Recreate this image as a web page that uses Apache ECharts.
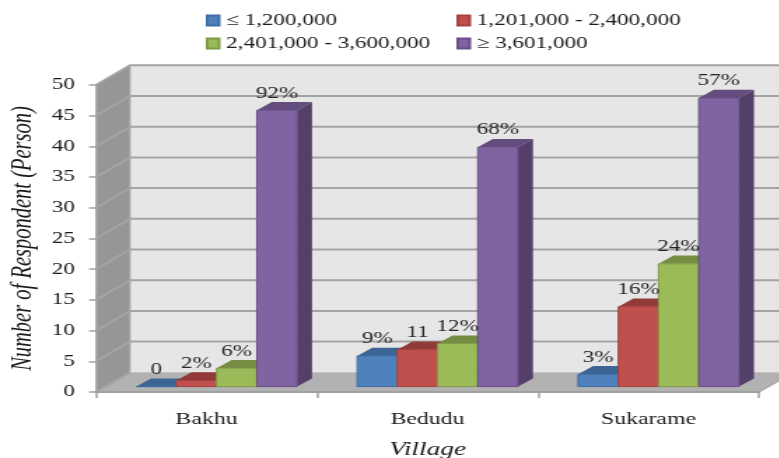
<!DOCTYPE html>
<html lang="en" style="height: 100%">
<head>
    <meta charset="utf-8">
    <style type="text/css">
        html, body { margin: 0; overflow: hidden; background: #fff; }
        /* the original picture is stretched sideways, text included */
        #container {
            width: 557px;
            height: 458px;
            transform: scaleX(1.4);
            transform-origin: 0 0;
        }
    </style>
</head>

<body>
    <div id="container"></div>

    <script type="text/javascript" src="https://cdn.jsdelivr.net/npm/echarts@6/dist/echarts.min.js"></script>
    <script type="text/javascript">

        const villages = ["Bakhu", "Bedudu", "Sukarame"];
        const yTicks = [0, 5, 10, 15, 20, 25, 30, 35, 40, 45, 50];

        const groupNames = ["≤ 1,200,000", "1,201,000 - 2,400,000", "2,401,000 - 3,600,000", "≥ 3,601,000"];

        const lowValues = [0, 5, 2];
        const lowLabels = ["0", "9%", "3%"];
        const midLowValues = [1, 6, 13];
        const midLowLabels = ["2%", "11", "16%"];
        const midHighValues = [3, 7, 20];
        const midHighLabels = ["6%", "12%", "24%"];
        const highValues = [45, 39, 47];
        const highLabels = ["92%", "68%", "57%"];

        // front, top, side, border
        const lowColors = ["#4f81bd", "#3c6595", "#325580", "#3f6da6"];
        const midLowColors = ["#c0504d", "#923a38", "#7d3230", "#a8403d"];
        const midHighColors = ["#9bbb59", "#758d43", "#647a39", "#7f9c45"];
        const highColors = ["#8064a2", "#634c7e", "#543f69", "#684f88"];

        const serif = "'Liberation Serif', 'Times New Roman', serif";

        const wallDepth = [24.3, -19.7];
        const barDepth = [10.7, -8.2];
        const barShift = [7.2, -5.4];
        const barBand = 0.182;

        let dom = document.getElementById('container');
        let myChart = echarts.init(dom, null, {
            renderer: 'canvas',
            useDirtyRect: false
        });

        const poly = (points, fill, stroke, width) => ({
            type: 'polygon',
            shape: { points: points },
            style: { fill: fill, stroke: stroke || null, lineWidth: width || 0 }
        });

        const renderWall = (params, api) => {
            let grid = params.coordSys;
            let x0 = grid.x;
            let x1 = grid.x + grid.width;
            let [dx, dy] = wallDepth;
            let y = api.coord([0, api.value(1)])[1];
            let children = [];

            if (api.value(1) === 0) {
                let top = grid.y;
                children.push(poly([[x0 + dx, top + dy], [x1 + dx, top + dy], [x1 + dx, y + dy], [x0 + dx, y + dy]], "#e6e6e6"));
                children.push(poly([[x0, top], [x0 + dx, top + dy], [x0 + dx, y + dy], [x0, y]], "#969696"));
                children.push(poly([[x0, y], [x0 + dx, y + dy], [x1 + dx, y + dy], [x1, y]], "#b2b2b2"));
                children.push({
                    type: 'polyline',
                    shape: { points: [[x0 + dx, top + dy], [x0 + dx, y + dy]] },
                    style: { stroke: "#a8a8a8", lineWidth: 1, fill: null }
                });
                children.push({
                    type: 'polyline',
                    shape: { points: [[x1, y], [x1 + dx, y + dy]] },
                    style: { stroke: "#a8a8a8", lineWidth: 1.5, fill: null }
                });
            }
            children.push({
                type: 'polyline',
                shape: api.value(1) === 0
                    ? { points: [[x0, y], [x0 + dx, y + dy]] }
                    : { points: [[x0, y], [x0 + dx, y + dy], [x1 + dx, y + dy]] },
                style: { stroke: "#a4a4a4", lineWidth: 2, fill: null }
            });
            return { type: 'group', children: children };
        };

        const makeBars = (name, order, values, labels, colors) => ({
            name: name,
            type: 'custom',
            z: 3,
            itemStyle: { color: colors[0], borderColor: colors[3], borderWidth: 1 },
            encode: { x: 0, y: 1 },
            data: values.map((v, i) => [i, v]),
            renderItem: (params, api) => {
                let band = api.size([1, 0])[0];
                let w = band * barBand;
                let top = api.coord([api.value(0), api.value(1)]);
                let base = api.coord([api.value(0), 0]);
                let x = top[0] + barShift[0] + (order - 2) * w;
                let yTop = top[1] + barShift[1];
                let yBase = base[1] + barShift[1];
                let [dx, dy] = barDepth;
                let label = labels[params.dataIndex];
                return {
                    type: 'group',
                    children: [
                        poly([[x + w, yTop], [x + w + dx, yTop + dy], [x + w + dx, yBase + dy], [x + w, yBase]], colors[2]),
                        poly([[x, yTop], [x + dx, yTop + dy], [x + w + dx, yTop + dy], [x + w, yTop]], colors[1]),
                        {
                            type: 'rect',
                            shape: { x: x, y: yTop, width: w, height: yBase - yTop },
                            style: { fill: colors[0], stroke: colors[3], lineWidth: 1 }
                        },
                        {
                            type: 'text',
                            z2: 20,
                            style: {
                                x: x + w / 2,
                                y: yTop - 17,
                                text: label,
                                fill: "#262626",
                                font: "16.5px " + serif,
                                align: 'center',
                                verticalAlign: 'middle'
                            }
                        }
                    ]
                };
            }
        });

        let option = {
            animation: false,
            grid: { left: 68.6, right: 14.9, top: 85, bottom: 66, outerBoundsMode: 'none' },
            legend: [
                {
                    orient: 'vertical',
                    left: 147,
                    top: 12,
                    itemWidth: 8.5,
                    itemHeight: 10,
                    itemGap: 6,
                    padding: 0,
                    icon: 'rect',
                    data: [groupNames[0], groupNames[2]],
                    textStyle: { fontFamily: serif, fontSize: 16.5, color: "#1a1a1a" }
                },
                {
                    orient: 'vertical',
                    left: 326,
                    top: 12,
                    itemWidth: 8.5,
                    itemHeight: 10,
                    itemGap: 6,
                    padding: 0,
                    icon: 'rect',
                    data: [groupNames[1], groupNames[3]],
                    textStyle: { fontFamily: serif, fontSize: 16.5, color: "#1a1a1a" }
                }
            ],
            xAxis: {
                type: 'category',
                z: 5,
                data: villages,
                name: "Village",
                nameLocation: 'middle',
                nameGap: 48,
                nameTextStyle: { fontFamily: serif, fontStyle: 'italic', fontSize: 19.5, color: "#1a1a1a" },
                axisLine: { lineStyle: { color: "#a0a0a0", width: 2 } },
                axisTick: { show: true, length: 6, lineStyle: { color: "#a0a0a0", width: 1.5 } },
                axisLabel: { margin: 19, fontFamily: serif, fontSize: 17, color: "#1a1a1a" }
            },
            yAxis: {
                type: 'value',
                z: 5,
                min: yTicks[0],
                max: yTicks[yTicks.length - 1],
                interval: 5,
                name: "Number of Respondent (Person)",
                nameLocation: 'middle',
                nameGap: 42,
                nameTextStyle: { fontFamily: serif, fontStyle: 'italic', fontSize: 20.5, color: "#1a1a1a" },
                splitLine: { show: false },
                axisLine: { show: true, lineStyle: { color: "#a0a0a0", width: 1.5 } },
                axisTick: { show: true, length: 5, lineStyle: { color: "#a0a0a0", width: 1.5 } },
                axisLabel: { margin: 15, padding: [4, 0, 0, 0], fontFamily: serif, fontSize: 16.5, color: "#1a1a1a" }
            },
            series: [
                {
                    type: 'custom',
                    silent: true,
                    z: 1,
                    encode: { x: 0, y: 1 },
                    data: yTicks.map(v => [0, v]),
                    renderItem: renderWall
                },
                makeBars(groupNames[0], 0, lowValues, lowLabels, lowColors),
                makeBars(groupNames[1], 1, midLowValues, midLowLabels, midLowColors),
                makeBars(groupNames[2], 2, midHighValues, midHighLabels, midHighColors),
                makeBars(groupNames[3], 3, highValues, highLabels, highColors)
            ]
        };

        myChart.setOption(option);

    </script>
</body>

</html>
